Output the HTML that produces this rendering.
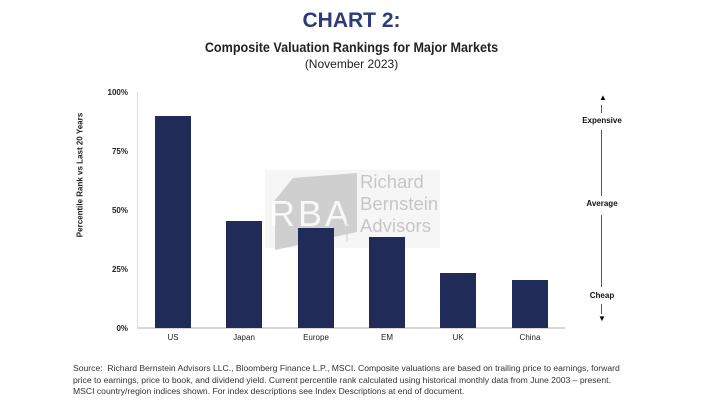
<!DOCTYPE html>
<html><head><style>
body{margin:0;width:703px;height:414px;background:#fff;font-family:"Liberation Sans",sans-serif;position:relative;overflow:hidden}
.a{position:absolute;white-space:nowrap}
.bar{position:absolute;background:#212b58;width:36px}
.yl{position:absolute;font-size:8px;font-weight:bold;color:#222;right:575px}
.xl{position:absolute;font-size:8px;color:#222;width:60px;text-align:center;top:333px}
.r{position:absolute;font-size:8px;font-weight:bold;color:#111;width:60px;text-align:center;left:572px}
</style></head><body>
<div class="a" style="left:0;width:703px;text-align:center;top:9px;font-size:21px;font-weight:bold;color:#2d3a7c">CHART 2:</div>
<div class="a" style="left:0;width:703px;text-align:center;top:39px;font-size:14px;font-weight:bold;color:#222;transform:scaleX(0.9)">Composite Valuation Rankings for Major Markets</div>
<div class="a" style="left:0;width:703px;text-align:center;top:57px;font-size:12px;color:#222">(November 2023)</div>

<div class="a" style="left:265px;top:170px;width:175px;height:78px;background:#f6f6f6"></div>
<svg class="a" style="left:265px;top:170px" width="180" height="80">
<polygon points="28,8 92,3 92,62 10,80 10,30" fill="#cfcfcf"/>
<text x="4" y="56" font-family="Liberation Sans" font-size="36" fill="#fff" fill-opacity="0.85" textLength="80">RBA</text>
<line x1="82" y1="5" x2="82" y2="72" stroke="#cfcfcf" stroke-width="1"/>
</svg>
<div class="a" style="left:360px;top:171px;font-size:18.5px;line-height:22px;color:#c6c6c6">Richard<br>Bernstein<br>Advisors</div>

<div class="a" style="left:137px;top:92px;width:1px;height:236px;background:#ddd"></div>
<div class="a" style="left:137px;top:327px;width:428px;height:2px;background:#d8d8d8"></div>
<div class="yl" style="top:88px">100%</div>
<div class="yl" style="top:147px">75%</div>
<div class="yl" style="top:206px">50%</div>
<div class="yl" style="top:265px">25%</div>
<div class="yl" style="top:324px">0%</div>
<div class="a" style="left:80px;top:175px;font-size:8px;font-weight:bold;color:#222;transform:translate(-50%,-50%) rotate(-90deg)">Percentile Rank vs Last 20 Years</div>

<div class="bar" style="left:155px;top:116px;height:212px"></div>
<div class="bar" style="left:226px;top:221px;height:107px"></div>
<div class="bar" style="left:298px;top:228px;height:100px"></div>
<div class="bar" style="left:369px;top:237px;height:91px"></div>
<div class="bar" style="left:440px;top:273px;height:55px"></div>
<div class="bar" style="left:512px;top:280px;height:48px"></div>
<div class="xl" style="left:143px">US</div>
<div class="xl" style="left:214px">Japan</div>
<div class="xl" style="left:286px">Europe</div>
<div class="xl" style="left:357px">EM</div>
<div class="xl" style="left:428px">UK</div>
<div class="xl" style="left:500px">China</div>

<div class="a" style="left:599px;top:94px;font-size:8px;line-height:8px">▲</div>
<div class="a" style="left:601px;top:105px;width:1px;height:8px;background:#555"></div>
<div class="r" style="top:116px">Expensive</div>
<div class="a" style="left:601px;top:130px;width:1px;height:66px;background:#555"></div>
<div class="r" style="top:199px">Average</div>
<div class="a" style="left:601px;top:215px;width:1px;height:72px;background:#555"></div>
<div class="r" style="top:291px">Cheap</div>
<div class="a" style="left:601px;top:304px;width:1px;height:10px;background:#555"></div>
<div class="a" style="left:598px;top:315px;font-size:8px;line-height:8px">▼</div>

<div class="a" style="left:73px;top:363px;font-size:8.6px;line-height:11.5px;color:#333">Source:&nbsp; Richard Bernstein Advisors LLC., Bloomberg Finance L.P., MSCI. Composite valuations are based on trailing price to earnings, forward<br>price to earnings, price to book, and dividend yield. Current percentile rank calculated using historical monthly data from June 2003 – present.<br>MSCI country/region indices shown. For index descriptions see Index Descriptions at end of document.</div>
</body></html>
